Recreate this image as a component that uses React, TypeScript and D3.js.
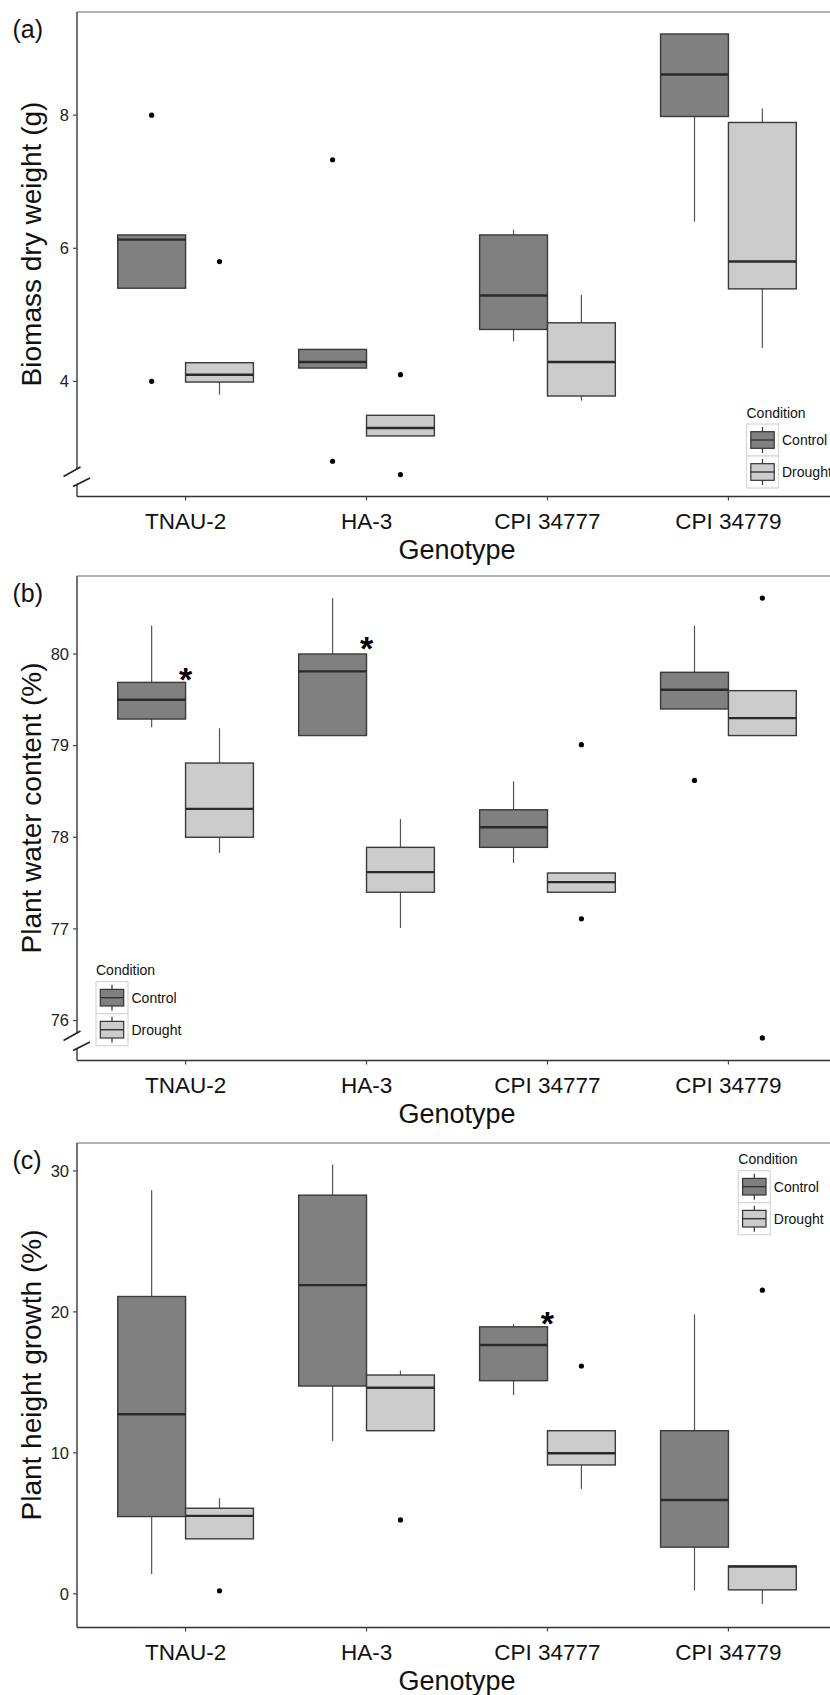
import React from "react";
import * as d3 from "d3";

const genotypes = ["TNAU-2", "HA-3", "CPI 34777", "CPI 34779"];
const conditions = ["Control", "Drought"];

// each box: [lower whisker, Q1, median, Q3, upper whisker]
const biomassControl = [
  [5.4, 5.4, 6.13, 6.2, 6.2],
  [4.2, 4.2, 4.29, 4.48, 4.48],
  [4.6, 4.78, 5.29, 6.2, 6.28],
  [6.4, 7.98, 8.61, 9.22, 9.22],
];
const biomassDrought = [
  [3.8, 3.99, 4.1, 4.28, 4.28],
  [3.18, 3.18, 3.3, 3.49, 3.49],
  [3.71, 3.78, 4.29, 4.88, 5.3],
  [4.5, 5.39, 5.8, 7.89, 8.1],
];
const biomassControlOutliers = [[8.0, 4.0], [7.33, 2.8], [], []];
const biomassDroughtOutliers = [[5.8], [4.1, 2.6], [], []];
const biomassTicks = [4, 6, 8];
const biomassDomain = [2.27, 9.55];

const waterControl = [
  [79.2, 79.29, 79.5, 79.69, 80.31],
  [79.11, 79.11, 79.81, 80.0, 80.61],
  [77.72, 77.89, 78.11, 78.3, 78.61],
  [79.4, 79.4, 79.61, 79.8, 80.31],
];
const waterDrought = [
  [77.83, 78.0, 78.31, 78.81, 79.19],
  [77.01, 77.4, 77.62, 77.89, 78.2],
  [77.4, 77.4, 77.51, 77.61, 77.61],
  [79.11, 79.11, 79.3, 79.6, 79.6],
];
const waterControlOutliers = [[], [], [], [78.62]];
const waterDroughtOutliers = [[], [], [79.01, 77.11], [80.61, 75.81]];
const waterTicks = [76, 77, 78, 79, 80];
const waterDomain = [75.564, 80.851];
const waterStarGenotypes = ["TNAU-2", "HA-3"];
const waterStarValues = [79.81, 80.15];

const growthControl = [
  [1.4, 5.48, 12.74, 21.09, 28.63],
  [10.84, 14.74, 21.9, 28.28, 30.45],
  [14.1, 15.12, 17.65, 18.94, 19.13],
  [0.23, 3.31, 6.66, 11.57, 19.82],
];
const growthDrought = [
  [3.9, 3.9, 5.53, 6.07, 6.78],
  [11.57, 11.57, 14.62, 15.52, 15.83],
  [7.44, 9.14, 9.97, 11.57, 11.57],
  [-0.73, 0.28, 1.93, 1.98, 1.98],
];
const growthControlOutliers = [[], [], [], []];
const growthDroughtOutliers = [[0.21], [5.24], [16.16], [21.54]];
const growthTicks = [0, 10, 20, 30];
const growthDomain = [-2.39, 31.98];
const growthStarGenotypes = ["CPI 34777"];
const growthStarValues = [19.77];

const FONT = "'Liberation Sans', Arial, Helvetica, sans-serif";
const W = 830;
const H = 1695;
const plotLeft = 77;
const plotRight = 837;
const plotH = 484.5;
const fills: Record<string, string> = { Control: "#808080", Drought: "#cccccc" };

const x = d3.scalePoint<string>().domain(genotypes).range([plotLeft, plotRight]).padding(0.6);
const step = x.step();
const boxW = (step * 0.75) / 2;

type PanelProps = {
  top: number;
  label: string;
  yTitle: string;
  domain: number[];
  ticks: number[];
  control: number[][];
  drought: number[][];
  controlOut: number[][];
  droughtOut: number[][];
  starG: string[];
  starV: number[];
  legend: { x: number; y: number };
  axisBreak: boolean;
};

function Legend({ lx, ly }: { lx: number; ly: number }) {
  const k = 32;
  return (
    <g>
      <text x={lx} y={ly - 6.5} fontSize={14} fontFamily={FONT} fill="#111">
        Condition
      </text>
      {conditions.map((c, i) => {
        const ky = ly + i * k;
        return (
          <g key={c}>
            <rect x={lx} y={ky} width={k} height={k} fill="#fff" stroke="#d6d6d6" strokeWidth={1.2} />
            <line x1={lx + k / 2} x2={lx + k / 2} y1={ky + 3} y2={ky + 29} stroke="#333" strokeWidth={1.2} />
            <rect x={lx + 4.3} y={ky + 7.7} width={k - 8.6} height={16.6} fill={fills[c]} stroke="#333" strokeWidth={1.2} />
            <line x1={lx + 4.3} x2={lx + k - 4.3} y1={ky + 16} y2={ky + 16} stroke="#333" strokeWidth={1.4} />
            <text x={lx + 35.5} y={ky + k / 2 + 5} fontSize={14} fontFamily={FONT} fill="#111">
              {c}
            </text>
          </g>
        );
      })}
    </g>
  );
}

function Panel(p: PanelProps) {
  const bottom = p.top + plotH;
  const y = d3.scaleLinear().domain(p.domain).range([bottom, p.top]);
  const groups = [p.control, p.drought];
  const outs = [p.controlOut, p.droughtOut];
  return (
    <g>
      <line x1={plotLeft} x2={W} y1={p.top} y2={p.top} stroke="#9a9a9a" strokeWidth={1.4} />
      {p.axisBreak ? (
        <g>
          <line x1={plotLeft} x2={plotLeft} y1={p.top} y2={bottom - 27} stroke="#444" strokeWidth={1.5} />
          <line x1={plotLeft} x2={plotLeft} y1={bottom - 12} y2={bottom} stroke="#444" strokeWidth={1.5} />
          <line x1={plotLeft - 13.5} y1={bottom - 20} x2={plotLeft + 3.5} y2={bottom - 29.5} stroke="#222" strokeWidth={1.6} />
          <line x1={plotLeft - 4} y1={bottom - 10} x2={plotLeft + 13} y2={bottom - 18.5} stroke="#222" strokeWidth={1.6} />
        </g>
      ) : (
        <line x1={plotLeft} x2={plotLeft} y1={p.top} y2={bottom} stroke="#444" strokeWidth={1.5} />
      )}
      <line x1={plotLeft} x2={W} y1={bottom} y2={bottom} stroke="#333" strokeWidth={1.6} />
      {p.ticks.map((t) => (
        <g key={t}>
          <line x1={plotLeft - 4} x2={plotLeft} y1={y(t)} y2={y(t)} stroke="#444" strokeWidth={1.2} />
          <text x={plotLeft - 8} y={y(t)} dy="0.35em" textAnchor="end" fontSize={16.5} fontFamily={FONT} fill="#222">
            {t}
          </text>
        </g>
      ))}
      {genotypes.map((g) => (
        <g key={g}>
          <line x1={x(g)} x2={x(g)} y1={bottom} y2={bottom + 4} stroke="#444" strokeWidth={1.2} />
          <text x={x(g)} y={bottom + 32.5} textAnchor="middle" fontSize={22.5} fontFamily={FONT} fill="#111">
            {g}
          </text>
        </g>
      ))}
      <text x={(plotLeft + plotRight) / 2} y={bottom + 62} textAnchor="middle" fontSize={27} fontFamily={FONT} fill="#111">
        Genotype
      </text>
      <text
        transform={`translate(41,${p.top + 232}) rotate(-90)`}
        textAnchor="middle"
        fontSize={28}
        fontFamily={FONT}
        fill="#111"
      >
        {p.yTitle}
      </text>
      <text x={12.5} y={p.top + 26} fontSize={25} fontFamily={FONT} fill="#111">
        {p.label}
      </text>
      {conditions.map((c, ci) =>
        genotypes.map((g, gi) => {
          const [lw, q1, med, q3, uw] = groups[ci][gi];
          const cx = (x(g) as number) + (ci - 0.5) * boxW;
          return (
            <g key={c + g}>
              <line x1={cx} x2={cx} y1={y(q3)} y2={y(uw)} stroke="#555" strokeWidth={1.2} />
              <line x1={cx} x2={cx} y1={y(q1)} y2={y(lw)} stroke="#555" strokeWidth={1.2} />
              <rect
                x={cx - boxW / 2}
                y={y(q3)}
                width={boxW}
                height={y(q1) - y(q3)}
                fill={fills[c]}
                stroke="#3a3a3a"
                strokeWidth={1.4}
              />
              <line x1={cx - boxW / 2} x2={cx + boxW / 2} y1={y(med)} y2={y(med)} stroke="#2a2a2a" strokeWidth={2.4} />
              {outs[ci][gi].map((o, oi) => (
                <circle key={oi} cx={cx} cy={y(o)} r={2.6} fill="#000" />
              ))}
            </g>
          );
        })
      )}
      {p.starG.map((g, i) => (
        <text
          key={g}
          x={x(g)}
          y={y(p.starV[i]) + 19.5}
          textAnchor="middle"
          fontSize={34}
          fontWeight="bold"
          fontFamily={FONT}
          fill="#000"
        >
          *
        </text>
      ))}
      <Legend lx={p.legend.x} ly={p.top + p.legend.y} />
    </g>
  );
}

export default function App() {
  return (
    <svg
      width={W}
      height={H}
      viewBox={`0 0 ${W} ${H}`}
      style={{ position: "absolute", left: 0, top: 0, background: "#fff" }}
    >
      <rect x={0} y={0} width={W} height={H} fill="#fff" />
      <Panel
        top={12}
        label="(a)"
        yTitle="Biomass dry weight (g)"
        domain={biomassDomain}
        ticks={biomassTicks}
        control={biomassControl}
        drought={biomassDrought}
        controlOut={biomassControlOutliers}
        droughtOut={biomassDroughtOutliers}
        starG={[]}
        starV={[]}
        legend={{ x: 746.5, y: 412 }}
        axisBreak={true}
      />
      <Panel
        top={576}
        label="(b)"
        yTitle="Plant water content (%)"
        domain={waterDomain}
        ticks={waterTicks}
        control={waterControl}
        drought={waterDrought}
        controlOut={waterControlOutliers}
        droughtOut={waterDroughtOutliers}
        starG={waterStarGenotypes}
        starV={waterStarValues}
        legend={{ x: 96, y: 405.7 }}
        axisBreak={true}
      />
      <Panel
        top={1143}
        label="(c)"
        yTitle="Plant height growth (%)"
        domain={growthDomain}
        ticks={growthTicks}
        control={growthControl}
        drought={growthDrought}
        controlOut={growthControlOutliers}
        droughtOut={growthDroughtOutliers}
        starG={growthStarGenotypes}
        starV={growthStarValues}
        legend={{ x: 738.3, y: 27.7 }}
        axisBreak={false}
      />
    </svg>
  );
}
